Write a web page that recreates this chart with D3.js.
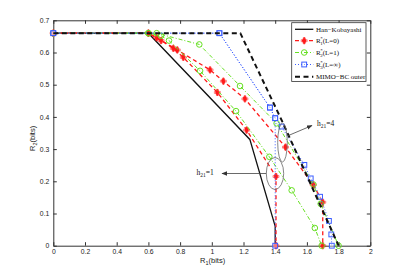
<!DOCTYPE html>
<html>
<head>
<meta charset="utf-8">
<script src="https://cdn.jsdelivr.net/npm/d3@7"></script>
<style>
  body { margin: 0; background: #fff; }
  .tick text { font-family: "Liberation Sans", Arial, sans-serif; font-size: 6.8px; fill: #222; }
  .serif { font-family: "Liberation Serif", "Times New Roman", serif; }
</style>
</head>
<body>
<svg id="chart" width="409" height="277"></svg>
<script>
// tick values and labels
const xTicks = [0, 0.2, 0.4, 0.6, 0.8, 1, 1.2, 1.4, 1.6, 1.8, 2];
const xTickLabels = ["0", "0.2", "0.4", "0.6", "0.8", "1", "1.2", "1.4", "1.6", "1.8", "2"];
const yTicks = [0, 0.1, 0.2, 0.3, 0.4, 0.5, 0.6, 0.7];
const yTickLabels = ["0", "0.1", "0.2", "0.3", "0.4", "0.5", "0.6", "0.7"];

// curves, [R1, R2]
const hanKobayashi = [[0, 0.66], [0.6, 0.66], [1.24, 0.33], [1.4, 0.06], [1.4, 0]];
const mimoOuter = [[0, 0.66], [1.18, 0.66], [1.45, 0.38], [1.8, 0]];

// h21 = 1
const r1H1 = [[0, 0.66], [0.6, 0.66], [0.68, 0.637], [0.757, 0.613], [0.82, 0.585], [1.035, 0.476], [1.22, 0.359], [1.405, 0.215], [1.405, 0]];
const r2H1 = [[0, 0.66], [0.6, 0.66], [0.68, 0.652], [0.73, 0.637], [0.926, 0.543], [1.153, 0.418], [1.363, 0.276], [1.504, 0.172], [1.65, 0.055], [1.693, 0]];
const r3H1 = [[0, 0.66], [1.048, 0.66], [1.367, 0.429], [1.4, 0.396], [1.4, 0]];

// h21 = 4
const r1H4 = [[0, 0.66], [0.6, 0.66], [0.652, 0.646], [0.782, 0.608], [0.989, 0.546], [1.073, 0.511], [1.209, 0.456], [1.465, 0.306], [1.64, 0.189], [1.7, 0.135], [1.7, 0]];
const r2H4 = [[0, 0.66], [0.6, 0.66], [0.652, 0.66], [0.921, 0.625], [1.178, 0.496], [1.409, 0.38], [1.641, 0.19], [1.687, 0.13], [1.8, 0]];
const r3H4 = [[0, 0.66], [1.048, 0.66], [1.367, 0.429], [1.4, 0.396], [1.441, 0.37], [1.584, 0.251], [1.624, 0.209], [1.683, 0.152], [1.739, 0.077], [1.754, 0.035], [1.757, 0]];

const svg = d3.select("#chart");
const x = d3.scaleLinear().domain([0, 2]).range([53.3, 370.3]);
const y = d3.scaleLinear().domain([0, 0.7]).range([245.7, 20.3]);

// axes, MATLAB style box with inward ticks
svg.append("g").attr("transform", "translate(0," + y(0) + ")")
  .call(d3.axisBottom(x).tickValues(xTicks).tickFormat((d, i) => xTickLabels[i]).tickSizeInner(-3.5).tickSizeOuter(0).tickPadding(3));
svg.append("g").attr("transform", "translate(0," + y(0.7) + ")")
  .call(d3.axisTop(x).tickValues(xTicks).tickFormat("").tickSizeInner(-3.5).tickSizeOuter(0));
svg.append("g").attr("transform", "translate(" + x(0) + ",0)")
  .call(d3.axisLeft(y).tickValues(yTicks).tickFormat((d, i) => yTickLabels[i]).tickSizeInner(-3.5).tickSizeOuter(0).tickPadding(4));
svg.append("g").attr("transform", "translate(" + x(2) + ",0)")
  .call(d3.axisRight(y).tickValues(yTicks).tickFormat("").tickSizeInner(-3.5).tickSizeOuter(0));
svg.selectAll(".domain, .tick line").attr("stroke", "#333").attr("stroke-width", 1);

const line = d3.line().x(d => x(d[0])).y(d => y(d[1]));

const RED = "#ff1a1a", GREEN = "#66e022", BLUE = "#3a5cff";

function drawMarker(g, kind, px, py) {
  if (kind === "diamond") {
    g.append("path").attr("d", d3.symbol(d3.symbolDiamond, 14)()).attr("transform", "translate(" + px + "," + py + ")")
      .attr("fill", RED).attr("stroke", RED).attr("stroke-width", 0.5);
    g.append("path").attr("d", d3.symbol(d3.symbolCross, 20)()).attr("transform", "translate(" + px + "," + py + ")")
      .attr("fill", "none").attr("stroke", RED).attr("stroke-width", 0.5);
  } else if (kind === "circle") {
    g.append("circle").attr("cx", px).attr("cy", py).attr("r", 2.8)
      .attr("fill", "none").attr("stroke", GREEN).attr("stroke-width", 1);
  } else if (kind === "square") {
    g.append("rect").attr("x", px - 2.4).attr("y", py - 2.4).attr("width", 4.8).attr("height", 4.8)
      .attr("fill", "#fff").attr("fill-opacity", 0.4).attr("stroke", BLUE).attr("stroke-width", 1);
  }
}

function series(data, color, dash, width, marker) {
  const g = svg.append("g");
  g.append("path").datum(data).attr("d", line).attr("fill", "none")
    .attr("stroke", color).attr("stroke-width", width).attr("stroke-dasharray", dash);
  if (marker) data.forEach(d => drawMarker(g, marker, x(d[0]), y(d[1])));
}

series(hanKobayashi, "#111", null, 1.3, null);
series(r1H1, RED, "4,3", 1.3, "diamond");
series(r1H4, RED, "4,3", 1.3, "diamond");
series(r2H1, GREEN, "4,2,1,2", 1, "circle");
series(r2H4, GREEN, "4,2,1,2", 1, "circle");
series(r3H1, BLUE, "1,2", 1, "square");
series(r3H4, BLUE, "1,2", 1, "square");
series(mimoOuter, "#111", "5,3.5", 2, null);

// annotations: ellipses and arrows
svg.append("defs").append("marker").attr("id", "arr").attr("viewBox", "0 0 10 10")
  .attr("refX", 9).attr("refY", 5).attr("markerWidth", 7).attr("markerHeight", 7).attr("orient", "auto")
  .append("path").attr("d", "M0,1 L10,5 L0,9 Z").attr("fill", "#333");

const ann = svg.append("g").attr("fill", "none").attr("stroke", "#666").attr("stroke-width", 0.8);
ann.append("ellipse").attr("cx", 275).attr("cy", 173.5).attr("rx", 8.7).attr("ry", 16);
ann.append("ellipse").attr("cx", 282.5).attr("cy", 142.5).attr("rx", 4.8).attr("ry", 19.5);
ann.append("line").attr("x1", 266.3).attr("y1", 173.5).attr("x2", 222).attr("y2", 173.5)
  .attr("stroke", "#444").attr("marker-end", "url(#arr)");
ann.append("line").attr("x1", 287.3).attr("y1", 136).attr("x2", 312).attr("y2", 125.5)
  .attr("stroke", "#444").attr("marker-end", "url(#arr)");

function hLabel(px, py, val) {
  const t = svg.append("text").attr("class", "serif").attr("x", px).attr("y", py)
    .attr("font-size", 7.5).attr("fill", "#111");
  t.append("tspan").text("h");
  t.append("tspan").attr("dy", 2).attr("font-size", 5.5).text("21");
  t.append("tspan").attr("dy", -2).text("=" + val);
}
hLabel(196.5, 174.5, "1");
hLabel(317, 126, "4");

// axis titles
const xt = svg.append("text").attr("x", 200).attr("y", 263).attr("font-family", "Liberation Sans, Arial, sans-serif")
  .attr("font-size", 7.5).attr("fill", "#222");
xt.append("tspan").text("R");
xt.append("tspan").attr("dy", 2).attr("font-size", 5.5).text("1");
xt.append("tspan").attr("dy", -2).text("(bits)");

const yt = svg.append("text").attr("transform", "translate(35,151) rotate(-90)")
  .attr("font-family", "Liberation Sans, Arial, sans-serif").attr("font-size", 7.5).attr("fill", "#222");
yt.append("tspan").text("R");
yt.append("tspan").attr("dy", 2).attr("font-size", 5.5).text("2");
yt.append("tspan").attr("dy", -2).text("(bits)");

// legend
const legendItems = [
  { name: "Han\u2212Kobayashi", color: "#111", dash: null, width: 1.3, marker: null },
  { name: "R", sub: "1", sup: "*", rest: "(L=0)", color: RED, dash: "4,3", width: 1.3, marker: "diamond" },
  { name: "R", sub: "2", sup: "*", rest: "(L=1)", color: GREEN, dash: "4,2,1,2", width: 1, marker: "circle" },
  { name: "R", sub: "3", sup: "*", rest: "(L=\u221e)", color: BLUE, dash: "1,2", width: 1, marker: "square" },
  { name: "MIMO\u2212BC outer", color: "#111", dash: "5,3.5", width: 2, marker: null }
];
const legendRows = [29.3, 40.7, 52.5, 64.5, 76.7];
const lg = svg.append("g");
lg.append("rect").attr("x", 291.7).attr("y", 22.7).attr("width", 74.3).attr("height", 58.8)
  .attr("fill", "#fff").attr("stroke", "#333").attr("stroke-width", 0.8);
legendItems.forEach((it, i) => {
  const ry = legendRows[i];
  lg.append("line").attr("x1", 295).attr("x2", 313.3).attr("y1", ry).attr("y2", ry)
    .attr("stroke", it.color).attr("stroke-width", it.width).attr("stroke-dasharray", it.dash);
  if (it.marker) drawMarker(lg, it.marker, 304.2, ry);
  const t = lg.append("text").attr("class", "serif").attr("x", 316).attr("y", ry + 2.5)
    .attr("font-size", 7).attr("fill", "#111");
  t.append("tspan").text(it.name);
  if (it.sub) {
    t.append("tspan").attr("dy", -3.5).attr("dx", -0.5).attr("font-size", 5).text(it.sup);
    t.append("tspan").attr("dy", 5.5).attr("dx", -2.5).attr("font-size", 5).text(it.sub);
    t.append("tspan").attr("dy", -2).text(it.rest);
  }
});
</script>
</body>
</html>
